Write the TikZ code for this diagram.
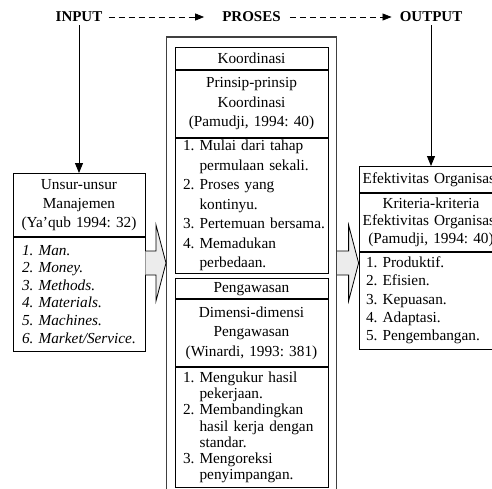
\documentclass[tikz,border=0pt]{standalone}
\usepackage{fontspec}
\setmainfont{Liberation Serif}
\frenchspacing
\usetikzlibrary{arrows.meta,positioning,fit,calc}

\tikzset{
  box/.style={draw, fill=white, line width=0.8pt, inner ysep=0pt},
  titlebox/.style={box, text width=#1, inner xsep=4pt, align=center, minimum height=22pt},
  headbox/.style={box, text width=#1, inner xsep=4pt, align=center},
  listbox/.style 2 args={box, text width=#1, inner xsep=1.5pt, align=left,
    execute at begin node={\leftskip=#2}},
  stage/.style={font=\fontsize{15}{18}\selectfont\bfseries, inner sep=3pt},
  flow/.style={dash pattern=on 6pt off 4pt, line width=0.8pt, -{Triangle[length=9pt,width=7pt]}},
  feed/.style={line width=0.9pt, -{Triangle[length=10pt,width=8pt]}},
  pipe/.style={draw, fill=gray!15, line width=0.8pt},
}
\newcommand{\cont}[1]{\phantom{1.}\ #1}
\newcommand{\lines}[1]{\fontsize{15.3}{#1}\selectfont\frenchspacing}
\newcommand{\pipearrow}[2]{%
  \draw[pipe] ($(#1)+(0,-12)$) -- ($(#2)+(-10,-12)$) -- ($(#2)+(-10,-38)$) -- (#2)
    -- ($(#2)+(-10,38)$) -- ($(#2)+(-10,12)$) -- ($(#1)+(0,12)$);}

\begin{document}
\begin{tikzpicture}[x=1pt, y=-1pt, font=\lines{17.8}]
\useasboundingbox (0,0) rectangle (492,488);
\clip (0,0) rectangle (492,488);

% stages
\node[stage] (input)  at (79,17)    {INPUT};
\node[stage] (proses) at (251.5,17) {PROSES};
\node[stage] (output) at (431,17)   {OUTPUT};

% input box
\node[headbox=124pt, minimum height=63pt, anchor=north, font=\lines{19}] (unsurhead) at (79,173)
  {Unsur-unsur\\ Manajemen\\ (Ya’qub 1994: 32)};
\node[listbox={129pt}{7.5pt}, minimum height=114pt, below=0pt of unsurhead, font=\lines{17.6}\itshape] (unsurlist)
  {1. Man.\\ 2. Money.\\ 3. Methods.\\ 4. Materials.\\ 5. Machines.\\ 6. Market/Service.};

% process boxes
\node[titlebox=145pt, anchor=north] (koortitle) at (251.5,47) {Koordinasi};
\node[headbox=145pt, minimum height=67pt, below=0pt of koortitle, font=\lines{19.8}] (koorhead)
  {Prinsip-prinsip\\ Koordinasi\\ (Pamudji, 1994: 40)};
\node[listbox={150pt}{6.5pt}, minimum height=135pt, below=0pt of koorhead, font=\lines{19.5}] (koorlist)
  {1. Mulai dari tahap\\ \cont{permulaan sekali.}\\ 2. Proses yang\\ \cont{kontinyu.}\\%
   3. Pertemuan bersama.\\ 4. Memadukan\\ \cont{perbedaan.}};

\node[titlebox=145pt, minimum height=20pt, below=5pt of koorlist] (awastitle) {Pengawasan};
\node[headbox=145pt, minimum height=67pt, below=0pt of awastitle, font=\lines{19.5}] (awashead)
  {Dimensi-dimensi\\ Pengawasan\\ (Winardi, 1993: 381)};
\node[listbox={150pt}{6.5pt}, minimum height=120pt, below=0pt of awashead, font=\lines{16.2}] (awaslist)
  {1. Mengukur hasil\\ \cont{pekerjaan.}\\ 2. Membandingkan\\ \cont{hasil kerja dengan}\\%
   \cont{standar.}\\ 3. Mengoreksi\\ \cont{penyimpangan.}};

\node[draw, black!75, line width=1.2pt, fit=(koortitle)(awaslist),
      inner xsep=8pt, inner ysep=10pt] (prosesbox) {};

% output box
\node[titlebox=140pt, inner xsep=2pt, minimum height=26pt, anchor=north] (efektitle) at (431,166)
  {Efektivitas Organisasi};
\node[headbox=140pt, inner xsep=2pt, minimum height=58pt, below=0pt of efektitle] (efekhead)
  {Kriteria-kriteria\\ Efektivitas Organisasi\\ (Pamudji, 1994: 40)};
\node[listbox={141pt}{5.5pt}, minimum height=97pt, below=0pt of efekhead, font=\lines{18.3}] (efeklist)
  {1. Produktif.\\ 2. Efisien.\\ 3. Kepuasan.\\ 4. Adaptasi.\\ 5. Pengembangan.};

% connectors
\draw[flow] ([xshift=3pt]input.east) -- ([xshift=-15pt]proses.west);
\draw[flow] ([xshift=6pt]proses.east) -- ([xshift=-5pt]output.west);
\draw[feed] (input.south) -- (unsurhead.north);
\draw[feed] (output.south) -- (efektitle.north);

\coordinate (pipelevel) at (0,263);
\pipearrow{unsurlist.east |- pipelevel}{prosesbox.west |- pipelevel}
\pipearrow{prosesbox.east |- pipelevel}{efektitle.west |- pipelevel}
\end{tikzpicture}
\end{document}
